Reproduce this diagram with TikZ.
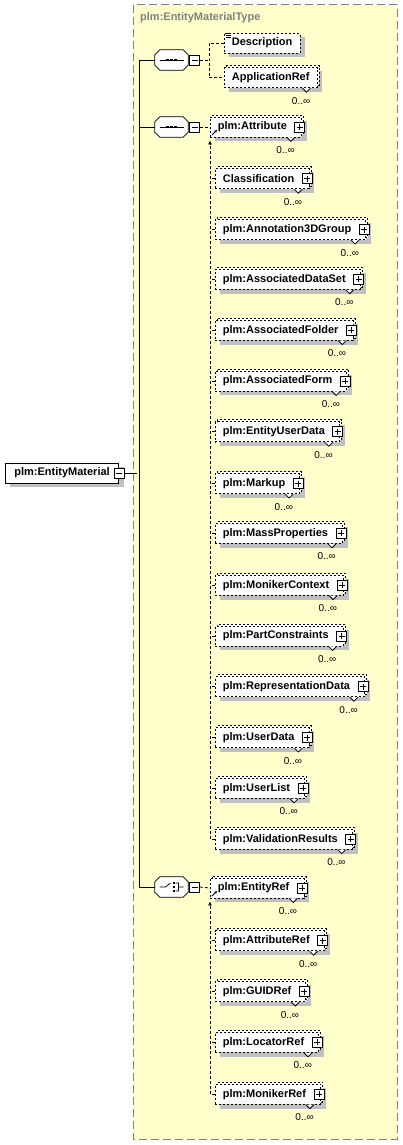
\documentclass[tikz,border=0pt]{standalone}
\usepackage{fontspec}
\setmainfont{Liberation Sans}
\usetikzlibrary{arrows.meta, positioning, shadows}
\definecolor{typebg}{HTML}{FFFFCC}
\definecolor{typeline}{HTML}{808080}
\definecolor{shadowgray}{HTML}{C0C0C0}
\pgfdeclarelayer{frame}
\pgfdeclarelayer{shade}
\pgfdeclarelayer{octa}
\pgfsetlayers{frame,shade,octa,main}
\tikzset{
  elem/.style   ={rectangle, draw=black, fill=white, dash pattern=on 2pt off 2pt,
                  line width=0.8pt, inner xsep=7.5pt, inner ysep=0pt,
                  minimum height=20pt, font=\fontsize{11}{13}\selectfont\bfseries},
  multi/.style  ={copy shadow={shadow xshift=2pt, shadow yshift=2pt, draw=black,
                               fill=white, dash pattern=on 2pt off 2pt},
                  label={[card]south east:0..∞}},
  plusd/.style  ={execute at end node={\hspace{7pt}}, label={[plusbox]east:{}}},
  card/.style   ={anchor=north east, xshift=-7pt, yshift=-9pt, inner sep=0pt,
                  font=\fontsize{10}{12}\selectfont},
  plusbox/.style={rectangle, draw=black, solid, fill=white, line width=0.8pt,
                  minimum size=10pt, inner sep=0pt, anchor=center, xshift=-2pt,
                  path picture={\draw[line width=0.8pt] (path picture bounding box.center)
                    +(-3,0) -- +(3,0) +(0,-3) -- +(0,3);}},
  minbox/.style ={rectangle, draw=black, solid, fill=white, line width=0.8pt,
                  minimum size=10pt, inner sep=0pt,
                  path picture={\draw[line width=0.8pt] (path picture bounding box.center)
                    +(-3,0) -- +(3,0);}},
  rootbox/.style={rectangle, draw=black, fill=white, line width=0.8pt,
                  inner xsep=9pt, inner ysep=0pt, minimum height=20pt,
                  font=\fontsize{11}{13}\selectfont\bfseries},
  seqbox/.style ={rectangle, minimum width=33pt, minimum height=20pt, inner sep=0pt},
  seqicon/.style={path picture={
                  \draw[black, line width=0.8pt, shift={(path picture bounding box.center)}]
                    (-12,0) -- (12,0);
                  \foreach \d in {-4,0,4}
                    \fill[black, shift={(path picture bounding box.center)}]
                      (\d-1.3,-1.3) rectangle (\d+1.3,1.3);}},
  choiceicon/.style={path picture={
                  \draw[black, line width=0.8pt, shift={(path picture bounding box.center)}]
                    (-12,0) -- (-6,0) -- (-1,-4)
                    (4,-4) -- (7,-4) -- (7,4) -- (4,4) (7,0) -- (12,0);
                  \foreach \d in {-4,0,4}
                    \fill[black, shift={(path picture bounding box.center)}]
                      (1,\d-1.2) rectangle (3.4,\d+1.2);}},
  conn/.style   ={line width=0.8pt, dash pattern=on 3pt off 2pt},
  link/.style   ={line width=0.8pt},
}
\begin{document}
\begin{tikzpicture}[x=1pt, y=-1pt]
  \useasboundingbox (0,0) rectangle (402,1145);

  % complex type frame
  \begin{pgfonlayer}{frame}
    \draw[typeline, fill=typebg, line width=1pt, dash pattern=on 8pt off 4pt]
      (133,5) rectangle (397,1139);
  \end{pgfonlayer}
  \node[anchor=west, inner sep=0pt, text=typeline,
        font=\fontsize{11}{13}\selectfont\bfseries] (title) at (140,18) {plm:EntityMaterialType};

  % root element
  \node[rootbox, anchor=west] (root) at (5,473) {plm:EntityMaterial};
  \node[minbox] (rootm) at (root.east) {};

  % compositors
  \node[seqbox, seqicon]    (seq1)   at (171.5,60)  {};
  \node[minbox, right=1pt of seq1]   (seq1m)  {};
  \node[seqbox, seqicon]    (seq2)   at (171.5,127) {};
  \node[minbox, right=1pt of seq2]   (seq2m)  {};
  \node[seqbox, choiceicon] (choice) at (171.5,887) {};
  \node[minbox, right=1pt of choice] (choicem) {};

  % first sequence
  \node[elem, anchor=west] (desc) at (224,43) {Description};
  \node[elem, multi, below right=14pt and 0pt of desc.south west] (appref) {ApplicationRef};

  % second sequence
  \node[elem, multi, plusd, anchor=west] (attr) at (210,127) {plm:Attribute};
  \node[elem, multi, plusd, below right=31pt and 5pt of attr.south west]  (class)   {Classification};
  \node[elem, multi, plusd, below right=30pt and 0pt of class.south west] (annot)   {plm:Annotation3DGroup};
  \node[elem, multi, plusd, below right=29pt and 0pt of annot.south west] (dset)    {plm:AssociatedDataSet};
  \node[elem, multi, plusd, below right=30pt and 0pt of dset.south west]  (folder)  {plm:AssociatedFolder};
  \node[elem, multi, plusd, below right=30pt and 0pt of folder.south west](form)    {plm:AssociatedForm};
  \node[elem, multi, plusd, below right=30pt and 0pt of form.south west]  (euser)   {plm:EntityUserData};
  \node[elem, multi, plusd, below right=31pt and 0pt of euser.south west] (markup)  {plm:Markup};
  \node[elem, multi, plusd, below right=29pt and 0pt of markup.south west](mass)    {plm:MassProperties};
  \node[elem, multi, plusd, below right=31pt and 0pt of mass.south west]  (moniker) {plm:MonikerContext};
  \node[elem, multi, plusd, below right=30pt and 0pt of moniker.south west](parts)  {plm:PartConstraints};
  \node[elem, multi, plusd, below right=30pt and 0pt of parts.south west] (repr)    {plm:RepresentationData};
  \node[elem, multi, plusd, below right=30pt and 0pt of repr.south west]  (udata)   {plm:UserData};
  \node[elem, multi, plusd, below right=30pt and 0pt of udata.south west] (ulist)   {plm:UserList};
  \node[elem, multi, plusd, below right=30pt and 0pt of ulist.south west] (valid)   {plm:ValidationResults};

  % choice
  \node[elem, multi, plusd, anchor=west] (entref) at (210,888) {plm:EntityRef};
  \node[elem, multi, plusd, below right=32pt and 5pt of entref.south west] (attref) {plm:AttributeRef};
  \node[elem, multi, plusd, below right=30pt and 0pt of attref.south west] (guid)   {plm:GUIDRef};
  \node[elem, multi, plusd, below right=30pt and 0pt of guid.south west]   (loc)    {plm:LocatorRef};
  \node[elem, multi, plusd, below right=31pt and 0pt of loc.south west]    (mon)    {plm:MonikerRef};

  % shadows
  \begin{pgfonlayer}{shade}
    \foreach \n in {root, desc, appref, attr, class, annot, dset, folder, form, euser,
                    markup, mass, moniker, parts, repr, udata, ulist, valid,
                    entref, attref, guid, loc, mon}
      \fill[shadowgray] ([shift={(5pt,-4pt)}]\n.south west)
        rectangle ([shift={(5pt,-4pt)}]\n.north east);
    \foreach \n in {seq1, seq2, choice}
      \fill[shadowgray, shift={(5,4)}]
        ([xshift=5pt]\n.north west) -- ([xshift=-5pt]\n.north east)
        -- ([yshift=-5pt]\n.north east) -- ([yshift=5pt]\n.south east)
        -- ([xshift=-5pt]\n.south east) -- ([xshift=5pt]\n.south west)
        -- ([yshift=5pt]\n.south west) -- ([yshift=-5pt]\n.north west) -- cycle;
  \end{pgfonlayer}

  % compositor outlines
  \begin{pgfonlayer}{octa}
    \foreach \n in {seq1, seq2, choice}
      \filldraw[link, fill=white]
        ([xshift=5pt]\n.north west) -- ([xshift=-5pt]\n.north east)
        -- ([yshift=-5pt]\n.north east) -- ([yshift=5pt]\n.south east)
        -- ([xshift=-5pt]\n.south east) -- ([xshift=5pt]\n.south west)
        -- ([yshift=5pt]\n.south west) -- ([yshift=-5pt]\n.north west) -- cycle;
  \end{pgfonlayer}

  % occurrence notches
  \foreach \n in {appref, attr, class, annot, dset, folder, form, euser, markup, mass,
                  moniker, parts, repr, udata, ulist, valid, entref, attref, guid, loc, mon}
    \draw[link, fill=white] ([xshift=-15pt]\n.south east) -- ++(4,4) -- ++(4,-4);

  % documentation mark
  \foreach \k in {1,3,5}
    \draw[line width=0.6pt] ([shift={(2pt,-\k pt)}]desc.north west) -- ++(5,0);

  % trunk
  \draw[link] (rootm.east) -- ++(12,0);
  \draw[link] (seq1.west) -- ++(-15,0) |- (choice.west);
  \draw[link] (seq2.west) -- ++(-15,0);

  % first sequence links
  \draw[conn] (seq1m.east) -- ++(9,0) coordinate (br1);
  \draw[conn] (desc.west) -| (br1) |- (appref.west);

  % second sequence links
  \draw[conn] (seq2m.east) -- (attr.west);
  \draw[link, -{Stealth[length=3pt, width=3pt]}] ([shift={(2pt,-8pt)}]attr.west) -- ++(5,-5);
  \draw[conn, -{Latex[length=4pt, width=4pt]}] (valid.west) -| ([yshift=-3pt]attr.south west);
  \foreach \n in {class, annot, dset, folder, form, euser, markup, mass, moniker,
                  parts, repr, udata, ulist}
    \draw[conn] (\n.west) -- ++(-5,0);

  % choice links
  \draw[conn] (choicem.east) -- (entref.west);
  \draw[link, -{Stealth[length=3pt, width=3pt]}] ([shift={(2pt,-8pt)}]entref.west) -- ++(5,-5);
  \draw[conn, -{Latex[length=4pt, width=4pt]}] (mon.west) -| ([yshift=-3pt]entref.south west);
  \foreach \n in {attref, guid, loc}
    \draw[conn] (\n.west) -- ++(-5,0);

\end{tikzpicture}
\end{document}
